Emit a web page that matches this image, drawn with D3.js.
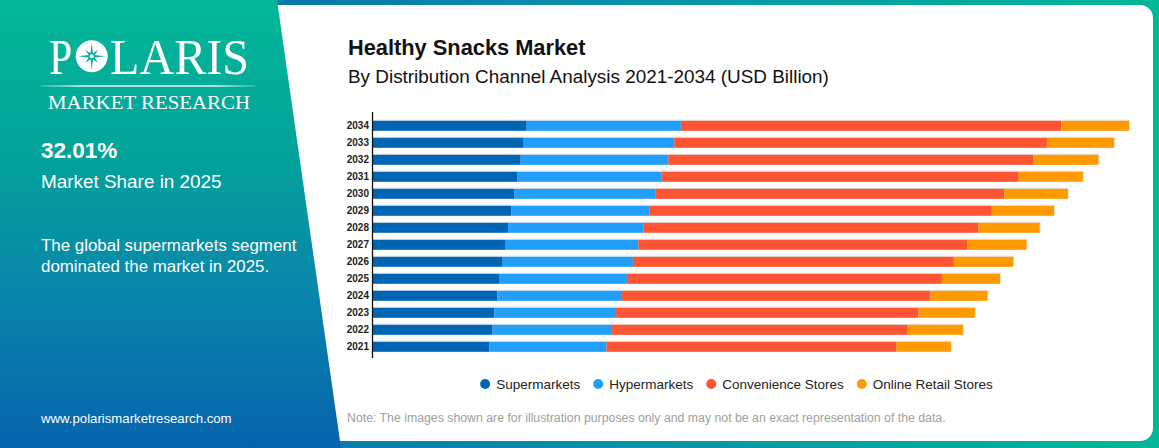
<!DOCTYPE html>
<html>
  <head>
    <meta charset="utf-8">
    <script src="https://cdn.jsdelivr.net/npm/d3@7"></script>
    <style>
      body { margin: 0; background: #fff; }
      svg { display: block; font-family: "Liberation Sans", Arial, sans-serif; }
    </style>
  </head>
  <body>
    <script>

      // chart data (USD Billion)
      var years = ["2034", "2033", "2032", "2031", "2030", "2029", "2028", "2027", "2026", "2025", "2024", "2023", "2022", "2021"];
      var channels = ["Supermarkets", "Hypermarkets", "Convenience Stores", "Online Retail Stores"];
      var supermarkets = [25.7, 25.2, 24.7, 24.1, 23.6, 23.1, 22.6, 22.2, 21.7, 21.2, 20.8, 20.3, 20.0, 19.5];
      var hypermarkets = [25.7, 25.1, 24.6, 24.1, 23.6, 23.1, 22.6, 22.1, 21.7, 21.2, 20.8, 20.3, 19.9, 19.5];
      var convenience  = [63.4, 62.1, 60.8, 59.5, 58.1, 57.0, 55.8, 54.8, 53.5, 52.5, 51.4, 50.4, 49.3, 48.3];
      var online       = [11.3, 11.2, 10.9, 10.7, 10.6, 10.4, 10.2,  9.9,  9.9,  9.7,  9.5,  9.4,  9.2,  9.1];
      var colors = ["#0066b3", "#229efd", "#ff5533", "#ff9a00"];

      var W = 1159, H = 448;

      var svg = d3.select("body")
        .append("svg")
        .attr("width", W)
        .attr("height", H);

      var defs = svg.append("defs");

      // frame gradient (blue -> teal, left to right)
      var fg = defs.append("linearGradient").attr("id", "frameGrad")
        .attr("x1", "0").attr("y1", "0").attr("x2", "1").attr("y2", "0");
      fg.append("stop").attr("offset", "0").attr("stop-color", "#0763ae");
      fg.append("stop").attr("offset", "0.45").attr("stop-color", "#0a8aab");
      fg.append("stop").attr("offset", "1").attr("stop-color", "#02b897");

      // side panel gradient (teal -> blue, top to bottom)
      var pg = defs.append("linearGradient").attr("id", "panelGrad")
        .attr("x1", "0").attr("y1", "0").attr("x2", "0").attr("y2", "1");
      pg.append("stop").attr("offset", "0").attr("stop-color", "#03b898");
      pg.append("stop").attr("offset", "0.35").attr("stop-color", "#03a29b");
      pg.append("stop").attr("offset", "0.65").attr("stop-color", "#0986ab");
      pg.append("stop").attr("offset", "1").attr("stop-color", "#0663ae");

      // logo rule fade
      var lg = defs.append("linearGradient").attr("id", "ruleGrad");
      lg.append("stop").attr("offset", "0").attr("stop-color", "#fff").attr("stop-opacity", 0.2);
      lg.append("stop").attr("offset", "0.2").attr("stop-color", "#fff").attr("stop-opacity", 1);
      lg.append("stop").attr("offset", "0.8").attr("stop-color", "#fff").attr("stop-opacity", 1);
      lg.append("stop").attr("offset", "1").attr("stop-color", "#fff").attr("stop-opacity", 0.2);

      // background frame
      svg.append("rect")
        .attr("width", W).attr("height", H)
        .attr("fill", "url(#frameGrad)");

      // white card
      svg.append("rect")
        .attr("x", 240).attr("y", 5)
        .attr("width", 1153 - 240).attr("height", 436)
        .attr("rx", 13)
        .attr("fill", "#fff");

      // slanted side panel
      svg.append("path")
        .attr("d", "M0,0 L277,0 L341,448 L0,448 Z")
        .attr("fill", "url(#panelGrad)");

      // logo
      var logo = svg.append("g").attr("fill", "#fff")
        .style("font-family", "'Liberation Serif', 'DejaVu Serif', serif");
      logo.append("text").attr("x", 49).attr("y", 74)
        .attr("font-size", 50).attr("textLength", 23).attr("lengthAdjust", "spacingAndGlyphs")
        .text("P");
      logo.append("text").attr("x", 110).attr("y", 74)
        .attr("font-size", 50).attr("textLength", 139).attr("lengthAdjust", "spacingAndGlyphs")
        .text("LARIS");
      logo.append("circle").attr("cx", 91.7).attr("cy", 56.3).attr("r", 16);

      // compass star inside the O
      var starPts = [];
      for (var k = 0; k < 16; k++) {
        var ang = -Math.PI / 2 + k * Math.PI / 8;
        var r = (k % 2 === 1) ? 3.2 : (k % 4 === 0 ? 13.5 : 9);
        starPts.push([91.7 + r * Math.cos(ang), 56.3 + r * Math.sin(ang)]);
      }
      logo.append("path")
        .attr("d", d3.line()(starPts) + "Z")
        .attr("fill", "#05ad9a");
      logo.append("circle").attr("cx", 91.7).attr("cy", 56.3).attr("r", 2).attr("fill", "#fff");

      svg.append("rect")
        .attr("x", 41).attr("y", 85.3).attr("width", 214).attr("height", 1.4)
        .attr("fill", "url(#ruleGrad)");

      logo.append("text").attr("x", 48).attr("y", 109)
        .attr("font-size", 18).attr("textLength", 202).attr("lengthAdjust", "spacingAndGlyphs")
        .text("MARKET RESEARCH");

      // side panel texts
      var side = svg.append("g").attr("fill", "#fff");
      side.append("text").attr("x", 41).attr("y", 158)
        .style("font-size", "22.5px").style("font-weight", "700")
        .text("32.01%");
      side.append("text").attr("x", 41).attr("y", 187.5)
        .style("font-size", "18.9px")
        .text("Market Share in 2025");
      side.append("text").attr("x", 41).attr("y", 250.5)
        .style("font-size", "16.9px")
        .text("The global supermarkets segment");
      side.append("text").attr("x", 41).attr("y", 271.5)
        .style("font-size", "16.9px")
        .text("dominated the market in 2025.");
      side.append("text").attr("x", 41).attr("y", 423)
        .style("font-size", "13.2px")
        .text("www.polarismarketresearch.com");

      // chart titles
      svg.append("text").attr("x", 348).attr("y", 55)
        .style("font-size", "21.8px").style("font-weight", "700").attr("fill", "#111")
        .text("Healthy Snacks Market");
      svg.append("text").attr("x", 348).attr("y", 82.5)
        .style("font-size", "18.9px").attr("fill", "#111")
        .text("By Distribution Channel Analysis 2021-2034 (USD Billion)");

      // stacked data
      var rows = years.map(function(y, i) {
        return {
          year: y,
          "Supermarkets": supermarkets[i],
          "Hypermarkets": hypermarkets[i],
          "Convenience Stores": convenience[i],
          "Online Retail Stores": online[i]
        };
      });
      var series = d3.stack().keys(channels)(rows);

      var x0 = 372.5;
      var xScale = d3.scaleLinear()
        .domain([0, 130])
        .range([x0, x0 + 780]);

      var yScale = d3.scaleBand()
        .domain(years)
        .range([113.3, 359.3])
        .paddingInner(0.41)
        .paddingOuter(0.44);

      var color = d3.scaleOrdinal().domain(channels).range(colors);

      // faint shadow behind each bar
      svg.append("g").selectAll("rect")
        .data(rows)
        .enter()
        .append("rect")
        .attr("x", xScale(0))
        .attr("y", function(d) { return yScale(d.year) - 1.2; })
        .attr("width", function(d, i) { return xScale(series[3][i][1]) - xScale(0) + 1; })
        .attr("height", yScale.bandwidth())
        .attr("fill", "#d8d8d8")
        .attr("opacity", 0.6);

      svg.append("g").selectAll("g")
        .data(series)
        .enter()
        .append("g")
        .attr("fill", function(d) { return color(d.key); })
        .selectAll("rect")
        .data(function(d) { return d; })
        .enter()
        .append("rect")
        .attr("x", function(d) { return xScale(d[0]); })
        .attr("y", function(d) { return yScale(d.data.year); })
        .attr("width", function(d) { return xScale(d[1]) - xScale(d[0]); })
        .attr("height", yScale.bandwidth());

      // y axis
      var yAxis = svg.append("g")
        .attr("transform", "translate(" + x0 + ",0)")
        .call(d3.axisLeft(yScale).tickSize(0).tickPadding(3.5));
      yAxis.select(".domain")
        .attr("d", "M0,112V358")
        .attr("stroke", "#111")
        .attr("stroke-width", 1.3);
      yAxis.selectAll("text")
        .style("font-family", "'Liberation Sans', Arial, sans-serif")
        .style("font-size", "10px")
        .style("font-weight", "700")
        .attr("fill", "#222");

      // legend
      var legend = svg.append("g").attr("transform", "translate(0,384)");
      var items = legend.selectAll("g")
        .data(channels)
        .enter()
        .append("g");
      items.append("circle")
        .attr("r", 5)
        .attr("fill", function(d) { return color(d); });
      items.append("text")
        .attr("x", 11)
        .attr("dy", "0.35em")
        .style("font-size", "13.5px")
        .attr("fill", "#222")
        .text(function(d) { return d; });

      var pos = [], cur = 0;
      items.each(function() {
        var tw = d3.select(this).select("text").node().getComputedTextLength();
        pos.push(cur);
        cur += 11 + tw + 18;
      });
      var legendW = cur - 18;
      var startX = 737 - legendW / 2 + 2;
      items.attr("transform", function(d, i) { return "translate(" + (startX + pos[i]) + ",0)"; });

      // note
      svg.append("text").attr("x", 347).attr("y", 421.5)
        .style("font-size", "12.3px")
        .attr("fill", "#a0a0a0")
        .text("Note: The images shown are for illustration purposes only and may not be an exact representation of the data.");

    </script>
  </body>
</html>
